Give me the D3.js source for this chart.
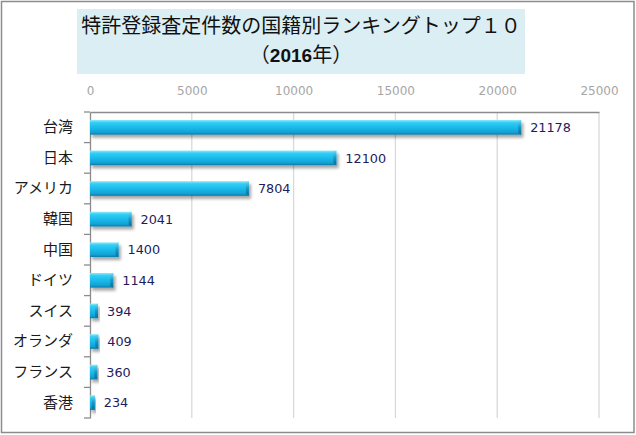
<!DOCTYPE html>
<html>
<head>
<meta charset="utf-8">
<script src="https://cdn.jsdelivr.net/npm/d3@7"></script>
<style>
  body { margin: 0; background: #fff; }
  svg text { font-family: "Noto Sans CJK JP", "Noto Sans", sans-serif; }
</style>
</head>
<body>
<div id="chart"></div>
<script>
const width = 636
const height = 435

// data
const countries = ["台湾", "日本", "アメリカ", "韓国", "中国", "ドイツ", "スイス", "オランダ", "フランス", "香港"]
const counts = [21178, 12100, 7804, 2041, 1400, 1144, 394, 409, 360, 234]
const tickValues = [0, 5000, 10000, 15000, 20000, 25000]
const titleLine1 = "特許登録査定件数の国籍別ランキングトップ１０"
const titleYear = "2016"

const plot = { left: 90, right: 599, top: 112, bottom: 418 }

const svg = d3.select("#chart").append("svg")
    .attr("width", width)
    .attr("height", height)
    .attr("viewBox", [0, 0, width, height])

const defs = svg.append("defs")

// vertical shading of the bars
const grad = defs.append("linearGradient")
    .attr("id", "bar-grad")
    .attr("x1", 0).attr("y1", 0).attr("x2", 0).attr("y2", 1)
grad.selectAll("stop")
    .data([["0%", "#8eebfc"], ["18%", "#33cdf4"], ["55%", "#17b8ea"], ["85%", "#129fd2"], ["100%", "#0e7aa6"]])
    .join("stop")
    .attr("offset", d => d[0])
    .attr("stop-color", d => d[1])

const endGrad = defs.append("linearGradient")
    .attr("id", "end-grad")
    .attr("x1", 0).attr("y1", 0).attr("x2", 0).attr("y2", 1)
endGrad.selectAll("stop")
    .data([["0%", "#6fd9f2"], ["50%", "#1597c6"], ["100%", "#0c6e96"]])
    .join("stop")
    .attr("offset", d => d[0])
    .attr("stop-color", d => d[1])

const shadow = defs.append("filter")
    .attr("id", "bar-shadow")
    .attr("x", "-10%").attr("y", "-30%")
    .attr("width", "130%").attr("height", "190%")
shadow.append("feDropShadow")
    .attr("dx", 2).attr("dy", 3)
    .attr("stdDeviation", 1.6)
    .attr("flood-color", "#000")
    .attr("flood-opacity", 0.35)

// outer frame
svg.append("rect")
    .attr("x", 1.5).attr("y", 1.5)
    .attr("width", width - 3.5).attr("height", height - 4)
    .attr("fill", "#fff")
    .attr("stroke", "#8c8c8c")
    .attr("stroke-width", 1.5)

// title box
svg.append("rect")
    .attr("x", 77).attr("y", 9)
    .attr("width", 448).attr("height", 65)
    .attr("fill", "#daeef3")

svg.append("text")
    .attr("x", 301).attr("y", 33)
    .attr("text-anchor", "middle")
    .style("font-size", "20px")
    .style("fill", "#111")
    .text(titleLine1)

const t2 = svg.append("text")
    .attr("x", 301).attr("y", 62)
    .attr("text-anchor", "middle")
    .style("font-size", "20px")
    .style("fill", "#111")
t2.append("tspan").text("（")
t2.append("tspan")
    .style("font-family", "'Liberation Sans', Arial, sans-serif")
    .style("font-weight", "bold")
    .style("font-size", "19px")
    .text(titleYear)
t2.append("tspan").text("年）")

// scales
const x = d3.scaleLinear()
    .domain([0, 25000])
    .range([plot.left, plot.right])

const yBand = d3.scaleBand()
    .domain(countries)
    .range([plot.top, plot.bottom])

const y = d3.scaleBand()
    .domain(countries)
    .range([plot.top, plot.bottom])
    .paddingInner(0.52)
    .paddingOuter(0.26)

// gridlines
svg.append("g")
    .selectAll("line")
    .data(tickValues.slice(1))
    .join("line")
    .attr("x1", d => x(d)).attr("x2", d => x(d))
    .attr("y1", plot.top).attr("y2", plot.bottom)
    .attr("stroke", "#d9d9d9")
    .attr("stroke-width", 1.3)

// top axis
const xAxis = svg.append("g")
    .attr("transform", `translate(0,${plot.top})`)
    .call(d3.axisTop(x).tickValues(tickValues).tickFormat(d3.format("d")).tickSize(0).tickPadding(17))
xAxis.select(".domain").attr("stroke", "#8c8c8c").attr("stroke-width", 1.3)
xAxis.selectAll("text")
    .style("font-family", "'DejaVu Sans', Verdana, sans-serif")
    .style("font-size", "12px")
    .style("fill", "#a6a6a6")

// left axis
const yAxis = svg.append("g")
    .attr("transform", `translate(${plot.left},0)`)
    .call(d3.axisLeft(yBand).tickSize(0).tickPadding(17))
yAxis.select(".domain").attr("stroke", "#8c8c8c").attr("stroke-width", 1.3)
yAxis.selectAll("text")
    .style("font-family", "'Noto Sans CJK JP', sans-serif")
    .style("font-size", "15px")
    .style("fill", "#1a1a1a")

// tick marks between categories
svg.append("g")
    .selectAll("line")
    .data(countries.map(d => yBand(d)).concat([plot.bottom]))
    .join("line")
    .attr("x1", plot.left - 6).attr("x2", plot.left)
    .attr("y1", d => d).attr("y2", d => d)
    .attr("stroke", "#8c8c8c")
    .attr("stroke-width", 1.3)

// bars
const data = countries.map((c, i) => ({ country: c, value: counts[i] }))

const bars = svg.append("g")
    .selectAll("g")
    .data(data)
    .join("g")
    .attr("filter", "url(#bar-shadow)")

bars.append("rect")
    .attr("x", x(0))
    .attr("y", d => y(d.country))
    .attr("width", d => x(d.value) - x(0))
    .attr("height", y.bandwidth())
    .attr("fill", "url(#bar-grad)")

// bevelled right end
bars.append("path")
    .attr("d", d => {
        const x1 = x(d.value), y0 = y(d.country), h = y.bandwidth()
        const e = Math.min(3, x1 - x(0))
        return `M${x1 - e},${y0 + 2}L${x1},${y0}L${x1},${y0 + h}L${x1 - e},${y0 + h - 2}Z`
    })
    .attr("fill", "url(#end-grad)")

// value labels
svg.append("g")
    .selectAll("text")
    .data(data)
    .join("text")
    .attr("x", d => x(d.value) + 9)
    .attr("y", d => y(d.country) + y.bandwidth() / 2)
    .attr("dy", "0.36em")
    .style("font-family", "'DejaVu Sans', Verdana, sans-serif")
    .style("font-size", "12.8px")
    .style("fill", "#1c1c5e")
    .text(d => d.value)
</script>
</body>
</html>
